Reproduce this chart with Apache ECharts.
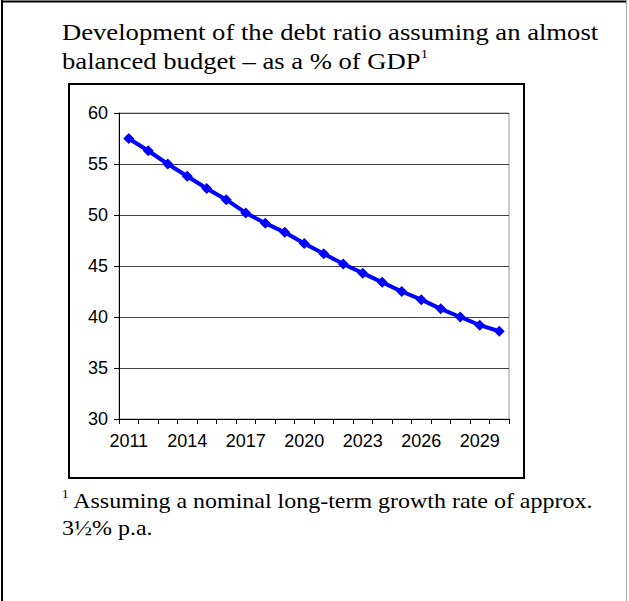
<!DOCTYPE html>
<html>
<head>
<meta charset="utf-8">
<script src="https://cdn.jsdelivr.net/npm/echarts@6/dist/echarts.min.js"></script>
<style>
html,body{margin:0;padding:0;background:#fff;}
#chart{width:629px;height:601px;}
</style>
</head>
<body>
<div id="chart"></div>
<script>
const years = ['2011','2012','2013','2014','2015','2016','2017','2018','2019','2020',
               '2021','2022','2023','2024','2025','2026','2027','2028','2029','2030'];
const debtRatio = [57.5, 56.3, 55.0, 53.8, 52.6, 51.5, 50.2, 49.2, 48.3, 47.2,
                   46.2, 45.2, 44.3, 43.4, 42.5, 41.7, 40.8, 40.0, 39.2, 38.6];
const yTicks = [30, 35, 40, 45, 50, 55, 60];
const titleText = 'Development of the debt ratio assuming an almost\nbalanced budget – as a % of GDP{sup|1}';
const noteText = '{sup|1} Assuming a nominal long-term growth rate of approx.\n3½% p.a.';

const chart = echarts.init(document.getElementById('chart'), null, {renderer: 'svg'});
chart.setOption({
  animation: false,
  backgroundColor: '#ffffff',
  graphic: [
    { type: 'line', shape: {x1: 2, y1: 0, x2: 2, y2: 601}, style: {stroke: '#000', lineWidth: 2} },
    { type: 'line', shape: {x1: 1, y1: 1.5, x2: 627, y2: 1.5}, style: {stroke: '#000', lineWidth: 2} },
    { type: 'line', shape: {x1: 626.5, y1: 1, x2: 626.5, y2: 601}, style: {stroke: '#aaa', lineWidth: 1} },
    { type: 'rect', shape: {x: 69, y: 84, width: 455, height: 394}, style: {fill: 'none', stroke: '#000', lineWidth: 2} },
    { type: 'text', x: 62, y: 17, scaleX: 1.11,
      style: {
        text: titleText, x: 0, y: 0, fill: '#000',
        fontFamily: 'Liberation Serif', fontSize: 24,
        lineHeight: 29, verticalAlign: 'top', align: 'left',
        rich: { sup: { fontFamily: 'Liberation Serif', fontSize: 13, lineHeight: 29, padding: [0,0,13,0] } }
      } },
    { type: 'text', x: 62, y: 487, scaleX: 1.09,
      style: {
        text: noteText, x: 0, y: 0, fill: '#000',
        fontFamily: 'Liberation Serif', fontSize: 22,
        lineHeight: 27, verticalAlign: 'top', align: 'left',
        rich: { sup: { fontFamily: 'Liberation Serif', fontSize: 12, lineHeight: 27, padding: [0,0,12,0] } }
      } }
  ],
  grid: {
    left: 119, right: 120, top: 113, bottom: 182,
    show: true, borderColor: '#999', borderWidth: 1, backgroundColor: 'transparent'
  },
  xAxis: {
    type: 'category',
    data: years,
    boundaryGap: true,
    axisLine: {lineStyle: {color: '#000', width: 1}},
    axisTick: {show: true, interval: 0, length: 5, lineStyle: {color: '#000'}},
    axisLabel: {interval: 2, color: '#000', fontFamily: 'Liberation Sans', fontSize: 18, margin: 13},
    splitLine: {show: false}
  },
  yAxis: {
    type: 'value',
    min: yTicks[0], max: yTicks[yTicks.length - 1], interval: 5,
    axisLine: {show: true, lineStyle: {color: '#000', width: 1}},
    axisTick: {show: true, length: 5, lineStyle: {color: '#000'}},
    axisLabel: {color: '#000', fontFamily: 'Liberation Sans', fontSize: 18, margin: 11},
    splitLine: {show: true, lineStyle: {color: '#444', width: 1}}
  },
  series: [{
    type: 'line',
    data: debtRatio,
    symbol: 'diamond',
    symbolSize: 11,
    lineStyle: {color: '#0000ff', width: 4},
    itemStyle: {color: '#0000ff'}
  }]
});
</script>
</body>
</html>
